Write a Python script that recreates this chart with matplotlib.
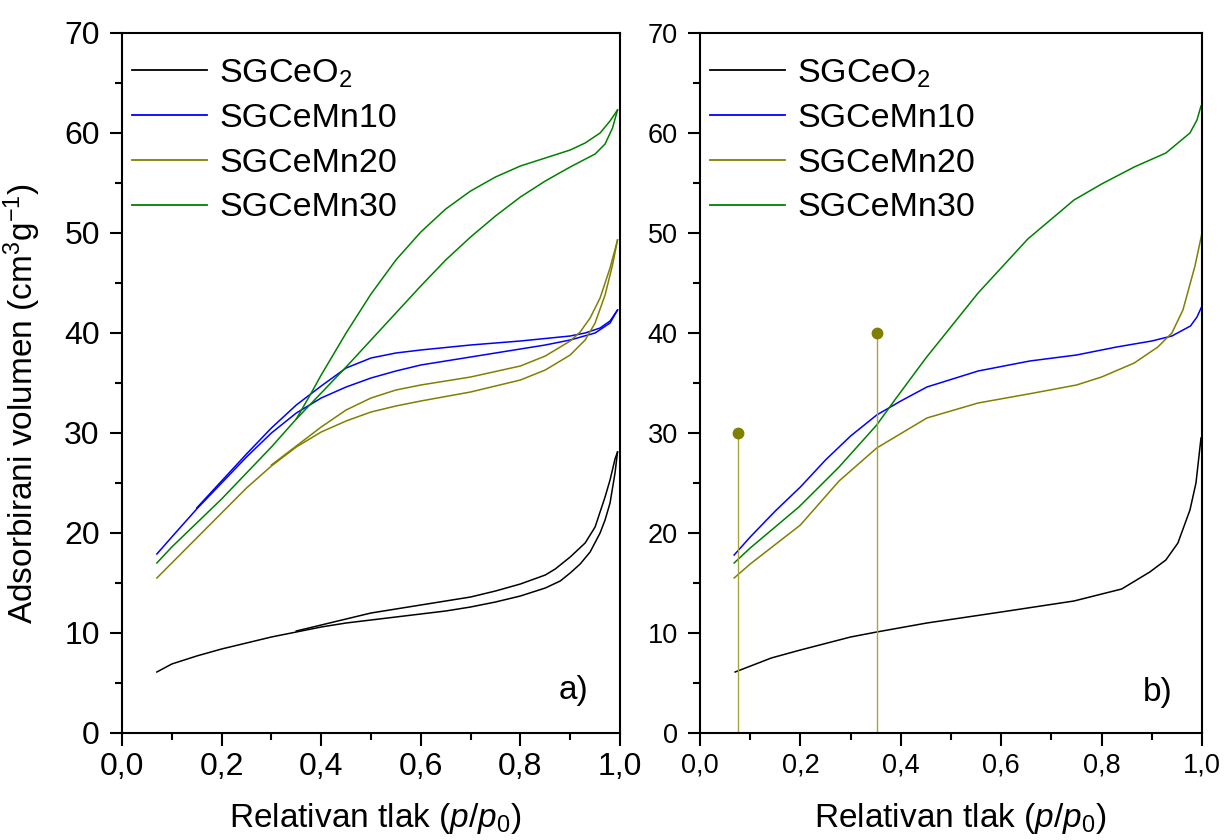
import numpy as np
import matplotlib; matplotlib.use('agg')
import matplotlib.pyplot as plt
from matplotlib.ticker import MultipleLocator, FuncFormatter

plt.rcParams['font.family'] = ['Liberation Sans', 'DejaVu Sans']
plt.rcParams['mathtext.fontset'] = 'custom'
plt.rcParams['mathtext.rm'] = 'Liberation Sans'
plt.rcParams['mathtext.it'] = 'Liberation Sans:italic'
plt.rcParams['mathtext.default'] = 'regular'

labels = ['SGCeO$_2$', 'SGCeMn10', 'SGCeMn20', 'SGCeMn30']
colors = ['black', '#0000FF', '#808000', '#008000']

# panel a) - adsorption + desorption branches
ceo2_ads_x = [0.07, 0.1, 0.15, 0.2, 0.25, 0.3, 0.35, 0.4, 0.45, 0.5, 0.55, 0.6, 0.65, 0.7, 0.75, 0.8,
              0.85, 0.88, 0.9, 0.92, 0.94, 0.96, 0.97, 0.98, 0.99, 0.995]
ceo2_ads_y = [6.1, 6.9, 7.7, 8.4, 9.0, 9.6, 10.1, 10.6, 11.0, 11.3, 11.6, 11.9, 12.2, 12.6, 13.1, 13.7,
              14.5, 15.2, 16.0, 16.9, 18.1, 20.0, 21.3, 23.0, 26.0, 28.1]
ceo2_des_x = [0.995, 0.99, 0.98, 0.97, 0.95, 0.93, 0.9, 0.87, 0.85, 0.8, 0.75, 0.7, 0.65, 0.6, 0.55,
              0.5, 0.45, 0.4, 0.35]
ceo2_des_y = [28.1, 27.4, 25.3, 23.6, 20.6, 19.0, 17.6, 16.4, 15.8, 14.9, 14.2, 13.6, 13.2, 12.8, 12.4,
              12.0, 11.4, 10.8, 10.2]

mn10_ads_x = [0.07, 0.1, 0.15, 0.2, 0.25, 0.3, 0.35, 0.4, 0.45, 0.5, 0.55, 0.6, 0.7, 0.8, 0.85, 0.9,
              0.95, 0.98, 0.995]
mn10_ads_y = [17.9, 19.6, 22.4, 25.0, 27.6, 30.0, 32.0, 33.5, 34.6, 35.5, 36.2, 36.8, 37.6, 38.4, 38.8,
              39.3, 40.0, 41.0, 42.3]
mn10_des_x = [0.995, 0.98, 0.96, 0.93, 0.9, 0.8, 0.7, 0.6, 0.55, 0.5, 0.45, 0.4, 0.35, 0.3, 0.25, 0.2,
              0.15]
mn10_des_y = [42.3, 41.2, 40.5, 40.0, 39.7, 39.2, 38.8, 38.3, 38.0, 37.5, 36.5, 34.7, 32.8, 30.5, 27.9,
              25.2, 22.5]

mn20_ads_x = [0.07, 0.1, 0.15, 0.2, 0.25, 0.3, 0.35, 0.4, 0.45, 0.5, 0.55, 0.6, 0.7, 0.8, 0.85, 0.9,
              0.93, 0.95, 0.97, 0.985, 0.995]
mn20_ads_y = [15.5, 17.0, 19.5, 22.0, 24.5, 26.7, 28.6, 30.1, 31.2, 32.1, 32.7, 33.2, 34.1, 35.3, 36.3,
              37.8, 39.3, 41.0, 43.8, 46.8, 49.3]
mn20_des_x = [0.995, 0.98, 0.96, 0.94, 0.92, 0.9, 0.85, 0.8, 0.7, 0.6, 0.55, 0.5, 0.45, 0.4, 0.35, 0.3]
mn20_des_y = [49.3, 46.5, 43.5, 41.5, 40.1, 39.2, 37.7, 36.7, 35.6, 34.8, 34.3, 33.5, 32.3, 30.6, 28.7,
              26.8]

mn30_ads_x = [0.07, 0.1, 0.15, 0.2, 0.25, 0.3, 0.35, 0.4, 0.45, 0.5, 0.55, 0.6, 0.65, 0.7, 0.75, 0.8,
              0.85, 0.9, 0.95, 0.97, 0.985, 0.995]
mn30_ads_y = [17.0, 18.6, 21.0, 23.4, 26.0, 28.6, 31.4, 34.0, 36.6, 39.3, 42.0, 44.7, 47.3, 49.6, 51.7,
              53.6, 55.2, 56.6, 57.9, 58.9, 60.5, 62.3]
mn30_des_x = [0.995, 0.98, 0.96, 0.93, 0.9, 0.85, 0.8, 0.75, 0.7, 0.65, 0.6, 0.55, 0.5, 0.45, 0.4,
              0.38, 0.35]
mn30_des_y = [62.3, 61.2, 60.0, 59.0, 58.3, 57.5, 56.7, 55.6, 54.2, 52.4, 50.1, 47.3, 43.9, 40.0, 35.8,
              34.0, 31.4]

# panel b) - single branches
b_ceo2_x = [0.07, 0.142, 0.2, 0.3, 0.352, 0.452, 0.6, 0.745, 0.84, 0.896, 0.928, 0.952, 0.976, 0.988, 0.998]
b_ceo2_y = [6.1, 7.5, 8.3, 9.6, 10.1, 11.0, 12.1, 13.2, 14.4, 16.1, 17.3, 19.0, 22.3, 25.0, 29.5]
b_mn10_x = [0.068, 0.1, 0.15, 0.2, 0.25, 0.3, 0.352, 0.4, 0.452, 0.554, 0.657, 0.75, 0.83, 0.9, 0.94,
            0.977, 0.99, 1.0]
b_mn10_y = [17.8, 19.6, 22.2, 24.6, 27.3, 29.7, 31.8, 33.2, 34.6, 36.2, 37.2, 37.8, 38.6, 39.2, 39.7,
            40.7, 41.6, 42.7]
b_mn20_x = [0.068, 0.1, 0.2, 0.277, 0.352, 0.452, 0.554, 0.665, 0.75, 0.8, 0.865, 0.912, 0.94, 0.962,
            0.986, 1.0]
b_mn20_y = [15.5, 16.9, 20.8, 25.2, 28.5, 31.5, 33.0, 34.0, 34.8, 35.6, 37.0, 38.6, 40.0, 42.3, 46.7, 50.0]
b_mn30_x = [0.068, 0.1, 0.197, 0.277, 0.352, 0.388, 0.45, 0.554, 0.653, 0.745, 0.8, 0.865, 0.928, 0.976,
            0.99, 0.998]
b_mn30_y = [17.0, 18.5, 22.6, 26.6, 30.8, 33.3, 37.5, 44.0, 49.4, 53.3, 54.9, 56.6, 58.0, 60.0, 61.3, 62.7]

stem_x = [0.0757, 0.352]
stem_y = [30, 40]

fig = plt.figure(figsize=(12.24, 8.4), dpi=100)
axa = fig.add_axes([122/1224, 107/840, 498/1224, 700/840])
axb = fig.add_axes([700/1224, 107/840, 502/1224, 700/840])

branches = [(ceo2_ads_x, ceo2_ads_y, ceo2_des_x, ceo2_des_y),
            (mn10_ads_x, mn10_ads_y, mn10_des_x, mn10_des_y),
            (mn20_ads_x, mn20_ads_y, mn20_des_x, mn20_des_y),
            (mn30_ads_x, mn30_ads_y, mn30_des_x, mn30_des_y)]
for (ax_, ay_, dx_, dy_), c, lab in zip(branches, colors, labels):
    axa.plot(ax_, ay_, color=c, lw=1.1, label=lab)
    axa.plot(dx_, dy_, color=c, lw=1.1)

singles = [(b_ceo2_x, b_ceo2_y), (b_mn10_x, b_mn10_y), (b_mn20_x, b_mn20_y), (b_mn30_x, b_mn30_y)]
for (x_, y_), c, lab in zip(singles, colors, labels):
    axb.plot(x_, y_, color=c, lw=1.1, label=lab)

axb.vlines(stem_x, 0, stem_y, color='#a5a53a', lw=1.0)
axb.plot(stem_x, stem_y, 'o', color='#808000', ms=7.5, ls='none')

comma = FuncFormatter(lambda v, p: ('%.1f' % v).replace('.', ','))

for ax, tsize in [(axa, 23), (axb, 19.5)]:
    ax.set_xlim(0, 1.0)
    ax.set_ylim(0, 70)
    ax.xaxis.set_major_locator(MultipleLocator(0.2))
    ax.xaxis.set_minor_locator(MultipleLocator(0.1))
    ax.yaxis.set_major_locator(MultipleLocator(10))
    ax.yaxis.set_minor_locator(MultipleLocator(5))
    ax.xaxis.set_major_formatter(comma)
    ax.tick_params(which='major', direction='out', length=9, width=1.5, labelsize=tsize)
    ax.tick_params(which='minor', direction='out', length=5, width=1.5)
    ax.tick_params(axis='y', pad=7)
    ax.tick_params(axis='x', pad=5)
    for s in ax.spines.values():
        s.set_linewidth(1.5)
    leg = ax.legend(loc='upper left', frameon=False, fontsize=24.5, handlelength=2.2,
                    handletextpad=0.35, labelspacing=0.4, borderaxespad=0.0, borderpad=0.3,
                    bbox_to_anchor=(0.0, 0.98))
    for l in leg.get_lines():
        l.set_linewidth(1.3)
    ax.set_xlabel('Relativan tlak ($\\mathit{p/p}_0$)', fontsize=24)

axa.xaxis.set_label_coords(0.508, -0.097)
axb.xaxis.set_label_coords(0.518, -0.097)
for ax in (axa, axb):
    ax.xaxis.label.set_va('top')

axa.set_ylabel('Adsorbirani volumen (cm$^3$g$^{-1}$)', fontsize=24)
axa.yaxis.set_label_coords(-0.158, 0.47)

axa.text(0.906, 4.3, 'a)', fontsize=24, ha='center', va='center')
axb.text(0.912, 4.1, 'b)', fontsize=24, ha='center', va='center')

fig.savefig('out.png', dpi=100)
